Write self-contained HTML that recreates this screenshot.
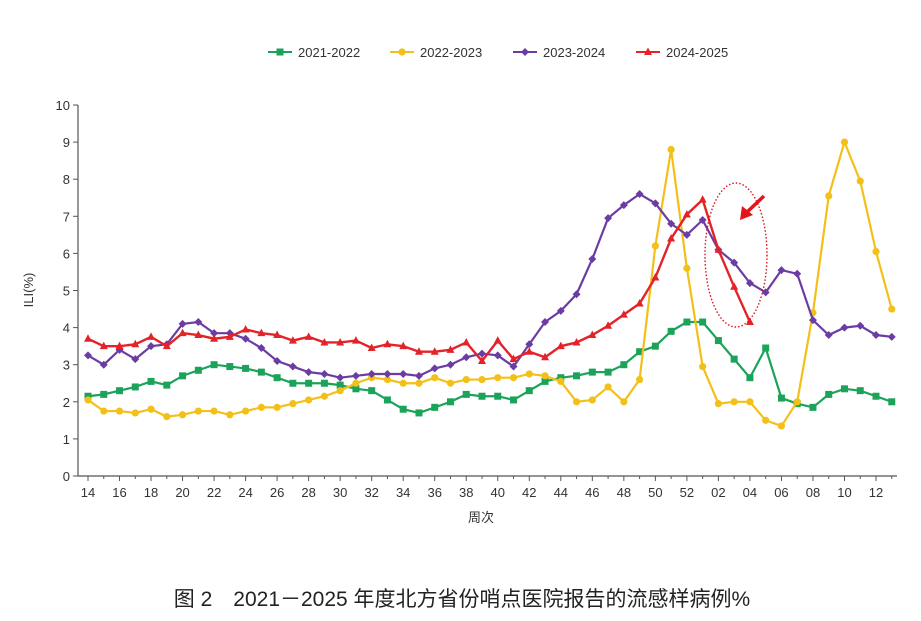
<!DOCTYPE html>
<html><head><meta charset="utf-8"><style>
body{margin:0;background:#fff;}
svg{display:block;font-family:"Liberation Sans","Noto Sans CJK SC",sans-serif;}
</style></head><body>
<svg id="chart" width="921" height="621" viewBox="0 0 921 621"></svg>
<script>
const weeks=["14","15","16","17","18","19","20","21","22","23","24","25","26","27","28","29","30","31","32","33","34","35","36","37","38","39","40","41","42","43","44","45","46","47","48","49","50","51","52","01","02","03","04","05","06","07","08","09","10","11","12","13"];
const s2122=[2.15,2.2,2.3,2.4,2.55,2.45,2.7,2.85,3.0,2.95,2.9,2.8,2.65,2.5,2.5,2.5,2.45,2.35,2.3,2.05,1.8,1.7,1.85,2.0,2.2,2.15,2.15,2.05,2.3,2.55,2.65,2.7,2.8,2.8,3.0,3.35,3.5,3.9,4.15,4.15,3.65,3.15,2.65,3.45,2.1,1.95,1.85,2.2,2.35,2.3,2.15,2.0];
const s2223=[2.05,1.75,1.75,1.7,1.8,1.6,1.65,1.75,1.75,1.65,1.75,1.85,1.85,1.95,2.05,2.15,2.3,2.5,2.65,2.6,2.5,2.5,2.65,2.5,2.6,2.6,2.65,2.65,2.75,2.7,2.55,2.0,2.05,2.4,2.0,2.6,6.2,8.8,5.6,2.95,1.95,2.0,2.0,1.5,1.35,2.0,4.4,7.55,9.0,7.95,6.05,4.5];
const s2324=[3.25,3.0,3.4,3.15,3.5,3.55,4.1,4.15,3.85,3.85,3.7,3.45,3.1,2.95,2.8,2.75,2.65,2.7,2.75,2.75,2.75,2.7,2.9,3.0,3.2,3.3,3.25,2.95,3.55,4.15,4.45,4.9,5.85,6.95,7.3,7.6,7.35,6.8,6.5,6.9,6.1,5.75,5.2,4.95,5.55,5.45,4.2,3.8,4.0,4.05,3.8,3.75];
const s2425=[3.7,3.5,3.5,3.55,3.75,3.5,3.85,3.8,3.7,3.75,3.95,3.85,3.8,3.65,3.75,3.6,3.6,3.65,3.45,3.55,3.5,3.35,3.35,3.4,3.6,3.1,3.65,3.15,3.35,3.2,3.5,3.6,3.8,4.05,4.35,4.65,5.35,6.4,7.05,7.45,6.1,5.1,4.15];
const yTicks=[0,1,2,3,4,5,6,7,8,9,10];
const seriesNames=["2021-2022","2022-2023","2023-2024","2024-2025"];

const NS="http://www.w3.org/2000/svg";
const svg=document.getElementById('chart');
const X0=88,DX=15.76,Y0=476,DY=37.1;
const xs=i=>X0+i*DX, ys=v=>Y0-v*DY;
function mk(t,a,p){const e=document.createElementNS(NS,t);for(const k in a)e.setAttribute(k,a[k]);(p||svg).appendChild(e);return e;}

// axes
let ax=mk('line',{x1:78,y1:ys(10),x2:78,y2:Y0,stroke:'#555','stroke-width':1.2});


let bx=mk('line',{x1:78,y1:Y0,x2:897,y2:Y0,stroke:'#555','stroke-width':1.2});


yTicks.forEach(v=>{
  mk('line',{x1:73,y1:ys(v),x2:78,y2:ys(v),stroke:'#555'});
  const t=mk('text',{x:70,y:ys(v)+5,'text-anchor':'end','font-size':13,fill:'#333'});t.textContent=v;
  
  
});
weeks.forEach((w,i)=>{
  mk('line',{x1:xs(i),y1:Y0,x2:xs(i),y2:Y0+(i%2==0?5:3),stroke:'#555'});
  if(i%2==0&&i<51){const t=mk('text',{x:xs(i),y:Y0+21,'text-anchor':'middle','font-size':13,fill:'#333'});t.textContent=w;
  
  }
});
let xt=mk('text',{x:481,y:522,'text-anchor':'middle','font-size':13,fill:'#333'});xt.textContent='周次';


let yt=mk('text',{x:0,y:0,'text-anchor':'middle','font-size':13,fill:'#333',transform:'translate(33,290) rotate(-90)'});yt.textContent='ILI(%)';



function marker(type,x,y,c,g){
  if(type=='sq')return mk('rect',{x:x-3.5,y:y-3.5,width:7,height:7,fill:c},g);
  if(type=='ci')return mk('circle',{cx:x,cy:y,r:3.6,fill:c},g);
  if(type=='di')return mk('polygon',{points:`${x},${y-4} ${x+4},${y} ${x},${y+4} ${x-4},${y}`,fill:c},g);
  return mk('polygon',{points:`${x},${y-4.5} ${x+4},${y+3} ${x-4},${y+3}`,fill:c},g);
}
const defs=[[s2122,'#1ca35a','sq'],[s2223,'#f3c019','ci'],[s2324,'#6b3da3','di'],[s2425,'#e42328','tr']];
defs.forEach(([d,c,m],k)=>{
  const g=mk('g',{});
  
  
  mk('polyline',{points:d.map((v,i)=>xs(i)+','+ys(v)).join(' '),fill:'none',stroke:c,'stroke-width':k==3?2.4:2.2},g);
  d.forEach((v,i)=>{const p=marker(m,xs(i),ys(v),c,g);
    
    });
});
// legend
const lx=[268,390,513,636];
defs.forEach(([d,c,m],k)=>{
  const g=mk('g',{});
  
  
  mk('line',{x1:lx[k],y1:52,x2:lx[k]+24,y2:52,stroke:c,'stroke-width':2},g);
  marker(m,lx[k]+12,52,c,g);
  const t=mk('text',{x:lx[k]+30,y:57,'font-size':13,fill:'#333'},g);t.textContent=seriesNames[k];
});
// annotation
let el=mk('ellipse',{cx:736,cy:255,rx:31,ry:72,fill:'none',stroke:'#d9121a','stroke-width':1.4,'stroke-dasharray':'1.5 2'});


let ar=mk('g',{});


mk('line',{x1:764,y1:196,x2:746,y2:213,stroke:'#e4141b','stroke-width':3.5},ar);
mk('polygon',{points:'740,220 742,206 753,215',fill:'#e4141b'},ar);
// caption
let cap=mk('text',{x:462,y:606,'text-anchor':'middle','font-size':21,fill:'#222'});
cap.textContent='图 2　2021－2025 年度北方省份哨点医院报告的流感样病例%';


</script>
</body></html>
